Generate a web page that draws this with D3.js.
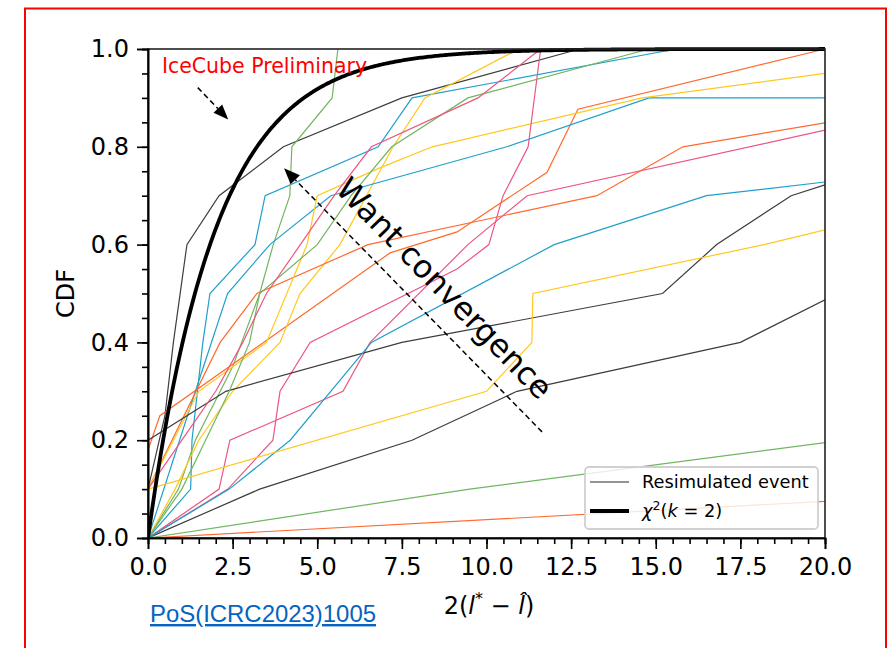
<!DOCTYPE html>
<html><head><meta charset="utf-8">
<script src="https://cdn.jsdelivr.net/npm/d3@7"></script>
<style>body{margin:0;background:#fff;} svg{display:block;} text{font-family:"DejaVu Sans",sans-serif;}</style>
</head><body>
<svg id="chart" width="894" height="648"></svg>
<script>
// ---------- data ----------
const xMajorTicks = [0, 2.5, 5, 7.5, 10, 12.5, 15, 17.5, 20];
const yMajorTicks = [0, 0.2, 0.4, 0.6, 0.8, 1.0];
const xTickLabels = ["0.0","2.5","5.0","7.5","10.0","12.5","15.0","17.5","20.0"];
const yTickLabels = ["0.0","0.2","0.4","0.6","0.8","1.0"];

const black1 = [[0,0.1],[0.5,0.25],[0.75,0.4],[1.15,0.6],[2.1,0.7],[4.0,0.8],[7.5,0.9],[12.75,1.0]];
const black2 = [[0,0],[3.3,0.1],[7.8,0.2],[10.9,0.3],[17.5,0.4],[20,0.487]];
const black3 = [[0,0.2],[2.3,0.3],[7.5,0.4],[15.2,0.5],[16.8,0.6],[19,0.7],[20,0.722]];
const cyan1 = [[0,0],[1.26,0.1],[1.3,0.2],[1.62,0.4],[1.83,0.5],[3.16,0.6],[3.46,0.7],[6.8,0.8],[7.8,0.9],[15.6,1.0]];
const cyan2 = [[0,0],[1.4,0.3],[2.35,0.5],[3.6,0.6],[5.4,0.7],[10.6,0.8],[14.8,0.9],[20,0.9]];
const cyan3 = [[0,0],[2.4,0.1],[4.2,0.2],[6.6,0.4],[12,0.6],[16.5,0.7],[20,0.728]];
const yellow1 = [[0,0],[0.8,0.1],[1.5,0.2],[2.5,0.3],[3.9,0.4],[4.49,0.5],[5.67,0.6],[7.24,0.8],[8.18,0.9],[10.95,1.0]];
const yellow2 = [[0,0.1],[1.5,0.3],[3.5,0.4],[4.7,0.6],[5.0,0.7],[6.85,0.757],[8.4,0.8],[14.6,0.9],[20,0.95]];
const yellow3 = [[0,0.1],[10,0.3],[11.34,0.4],[11.37,0.5],[18.2,0.6],[20,0.63]];
const pink1 = [[0,0],[2.1,0.1],[2.42,0.2],[5.76,0.3],[6.56,0.4],[9.45,0.6],[11.2,0.7],[20,0.834]];
const pink2 = [[0,0],[2.36,0.1],[3.69,0.2],[3.9,0.3],[4.79,0.4],[9.13,0.55],[10.07,0.6],[10.49,0.7],[11.23,0.8],[11.6,1.0]];
const pink3 = [[0,0.1],[1.0,0.2],[2.0,0.3],[2.8,0.4],[3.5,0.5],[4.5,0.6],[5.5,0.7],[6.6,0.8],[9.75,0.9],[11.6,1.0]];
const green1 = [[0,0],[0.9,0.1],[1.4,0.2],[2.5,0.35],[3.3,0.5],[3.7,0.6],[4.19,0.7],[4.25,0.8],[5.44,0.9],[5.61,1.0]];
const green2 = [[0,0],[9.5,0.1],[20,0.195]];
const green3 = [[0,0],[1.0,0.1],[1.7,0.2],[2.4,0.3],[3.0,0.4],[3.3,0.5],[5.0,0.6],[6.0,0.7],[7.2,0.8],[9.45,0.9],[14.8,1.0]];
const orange1 = [[0,0.18],[0.35,0.25],[7.15,0.583],[9.13,0.626],[11.79,0.748],[12.7,0.877],[20,1.0]];
const orange2 = [[0,0.1],[2.13,0.4],[3.22,0.5],[6.5,0.6],[13.26,0.7],[15.8,0.8],[20,0.849]];
const orange3 = [[0,0],[20,0.075]];

const resimulated = [
  {c:"#3d3d3d", d:black1},{c:"#1fa0cc", d:cyan1},{c:"#72b561", d:green1},{c:"#ff6a2e", d:orange1},{c:"#ffc81e", d:yellow1},{c:"#ec5683", d:pink1},
  {c:"#3d3d3d", d:black2},{c:"#1fa0cc", d:cyan2},{c:"#72b561", d:green2},{c:"#ff6a2e", d:orange2},{c:"#ffc81e", d:yellow2},{c:"#ec5683", d:pink2},
  {c:"#3d3d3d", d:black3},{c:"#1fa0cc", d:cyan3},{c:"#72b561", d:green3},{c:"#ff6a2e", d:orange3},{c:"#ffc81e", d:yellow3},{c:"#ec5683", d:pink3}
];

// chi2(k=2) CDF sample points
const chiX = d3.range(0, 20.001, 0.05);
const chiY = chiX.map(x => 1 - Math.exp(-x / 2));

// ---------- layout ----------
const svg = d3.select("#chart");
const L = 148, R = 825, T = 49, B = 538;
const x = d3.scaleLinear().domain([0, 20]).range([L, R]);
const y = d3.scaleLinear().domain([0, 1]).range([B, T]);

// red frame
svg.append("rect").attr("x", 25).attr("y", 8.5).attr("width", 861).attr("height", 660)
  .attr("fill", "none").attr("stroke", "#ff0000").attr("stroke-width", 2);

svg.append("defs").append("clipPath").attr("id", "clip")
  .append("rect").attr("x", L).attr("y", T - 3).attr("width", R - L).attr("height", B - T + 3);

const line = d3.line().x(d => x(d[0])).y(d => y(d[1]));
const plot = svg.append("g").attr("clip-path", "url(#clip)");
plot.selectAll("path.res").data(resimulated).join("path").attr("class", "res")
  .attr("d", s => line(s.d)).attr("fill", "none").attr("stroke", s => s.c).attr("stroke-width", 1.2);

// frame spines
svg.append("rect").attr("x", L).attr("y", T).attr("width", R - L).attr("height", B - T)
  .attr("fill", "none").attr("stroke", "#222").attr("stroke-width", 1.6);

plot.append("path").datum(chiX.map((v, i) => [v, chiY[i]])).attr("d", line)
  .attr("fill", "none").attr("stroke", "#000").attr("stroke-width", 3.8);

// axes
function styleAxis(g) {
  g.select(".domain").attr("stroke", "#000").attr("stroke-width", 1.6);
  g.selectAll(".tick line").attr("stroke", "#000").attr("stroke-width", 1.6);
  g.selectAll(".tick text").attr("fill", "#000").style("font-size", "24px").style("font-family", "DejaVu Sans");
}
const xMinor = d3.range(0, 20.001, 0.5);
const yMinor = d3.range(0, 1.0001, 0.05);
svg.append("g").attr("transform", `translate(0,${B})`)
  .call(d3.axisBottom(x).tickValues(xMinor).tickSize(6).tickFormat(""))
  .call(styleAxis);
svg.append("g").attr("transform", `translate(${L},0)`)
  .call(d3.axisLeft(y).tickValues(yMinor).tickSize(6).tickFormat(""))
  .call(styleAxis);
svg.append("g").attr("transform", `translate(0,${B})`)
  .call(d3.axisBottom(x).tickValues(xMajorTicks).tickSize(11).tickPadding(9).tickFormat((d, i) => xTickLabels[i]))
  .call(styleAxis);
svg.append("g").attr("transform", `translate(${L},0)`)
  .call(d3.axisLeft(y).tickValues(yMajorTicks).tickSize(11).tickPadding(8).tickFormat((d, i) => yTickLabels[i]))
  .call(styleAxis);

// axis labels
svg.append("text").attr("transform", `translate(74,${(T + B) / 2}) rotate(-90)`)
  .attr("text-anchor", "middle").style("font-size", "24px").text("CDF");
const xl = svg.append("text").attr("x", 489).attr("y", 614).attr("text-anchor", "middle").style("font-size", "24px");
xl.append("tspan").text("2(");
xl.append("tspan").style("font-style", "italic").text("l");
xl.append("tspan").attr("dy", -10).style("font-size", "16px").text("*");
xl.append("tspan").attr("dy", 10).text(" \u2212 ");
xl.append("tspan").style("font-style", "italic").text("l\u0302");
xl.append("tspan").text(")");

// link text
svg.append("text").attr("x", 150).attr("y", 622).attr("textLength", 226).attr("lengthAdjust", "spacingAndGlyphs")
  .style("font-family", "'Liberation Sans Narrow','Liberation Sans',sans-serif").style("font-size", "24px")
  .style("text-decoration", "underline").attr("fill", "#0563c1").text("PoS(ICRC2023)1005");

// annotations
svg.append("text").attr("x", x(0.41)).attr("y", y(0.951)).attr("fill", "#ff0000")
  .style("font-size", "20.5px").text("IceCube Preliminary");

function arrow(x0, y0, x1, y1, hl, hw) {
  const px0 = x(x0), py0 = y(y0), px1 = x(x1), py1 = y(y1);
  const dx = px1 - px0, dy = py1 - py0, len = Math.hypot(dx, dy);
  const ux = dx / len, uy = dy / len;
  const bx = px1 - ux * hl, by = py1 - uy * hl;
  svg.append("line").attr("x1", px0).attr("y1", py0).attr("x2", bx).attr("y2", by)
    .attr("stroke", "#000").attr("stroke-width", 1.5).attr("stroke-dasharray", "5.5,3.5");
  svg.append("path").attr("d", `M${px1},${py1}L${bx - uy * hw / 2},${by + ux * hw / 2}L${bx + uy * hw / 2},${by - ux * hw / 2}Z`)
    .attr("fill", "#000");
}
arrow(1.47, 0.921, 2.37, 0.856, 15, 12);
arrow(11.64, 0.217, 4.02, 0.756, 16, 13);

svg.append("text").attr("transform", `translate(${x(8.76)},${y(0.511)}) rotate(45.8)`)
  .attr("text-anchor", "middle").attr("dy", "0.35em").style("font-size", "31.5px").text("Want convergence");

// legend
const lg = svg.append("g");
lg.append("rect").attr("x", 585).attr("y", 467).attr("width", 233).attr("height", 62).attr("rx", 4)
  .attr("fill", "#fff").attr("fill-opacity", 0.8).attr("stroke", "#d0d0d0").attr("stroke-width", 1.8);
lg.append("line").attr("x1", 590).attr("x2", 629).attr("y1", 482).attr("y2", 482).attr("stroke", "#707070").attr("stroke-width", 1.3);
lg.append("line").attr("x1", 590).attr("x2", 629).attr("y1", 511).attr("y2", 511).attr("stroke", "#000").attr("stroke-width", 3.8);
lg.append("text").attr("x", 642).attr("y", 488).style("font-size", "17.8px").text("Resimulated event");
const lt = lg.append("text").attr("x", 642).attr("y", 517).style("font-size", "17.8px");
lt.append("tspan").style("font-style", "italic").text("\u03c7");
lt.append("tspan").attr("dy", -7).style("font-size", "12.5px").text("2");
lt.append("tspan").attr("dy", 7).text("(");
lt.append("tspan").style("font-style", "italic").text("k");
lt.append("tspan").text(" = 2)");
</script>
</body></html>
